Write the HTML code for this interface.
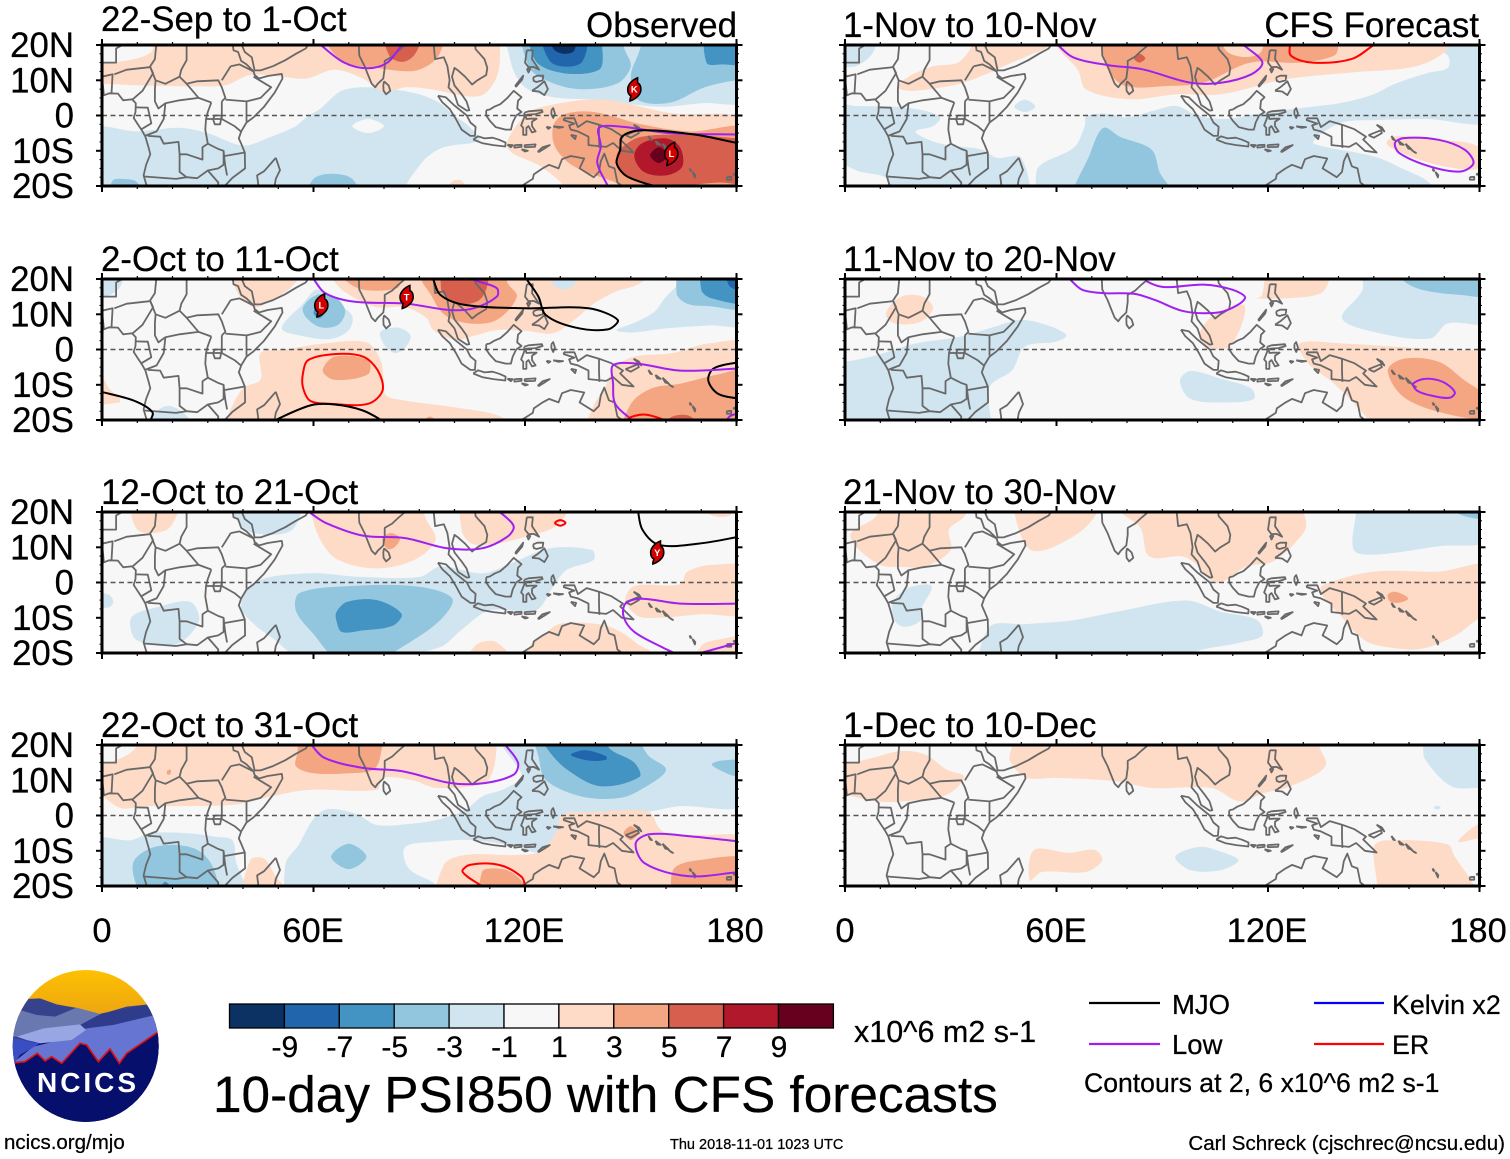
<!DOCTYPE html>
<html lang="en">
<head>
<meta charset="utf-8">
<title>10-day PSI850 with CFS forecasts</title>
<style>
html,body{margin:0;padding:0;background:#fff;width:1510px;height:1159px;overflow:hidden}
svg{display:block}
text{font-family:"Liberation Sans",Arial,sans-serif;fill:#000;font-kerning:none;stroke:#000;stroke-width:.25px}
</style>
</head>
<body>
<svg id="chart" xmlns="http://www.w3.org/2000/svg" width="1510" height="1159" viewBox="0 0 1510 1159">
  <rect x="0" y="0" width="1510" height="1159" fill="#fff"/>
  <g id="panels"></g>

  <g font-size="34.8">
    <text x="101" y="31">22-Sep to 1-Oct</text>
    <text x="737" y="37" text-anchor="end">Observed</text>
    <text x="101" y="271">2-Oct to 11-Oct</text>
    <text x="101" y="504">12-Oct to 21-Oct</text>
    <text x="101" y="737">22-Oct to 31-Oct</text>
    <text x="843" y="37">1-Nov to 10-Nov</text>
    <text x="1479" y="37" text-anchor="end">CFS Forecast</text>
    <text x="843" y="271">11-Nov to 20-Nov</text>
    <text x="843" y="504">21-Nov to 30-Nov</text>
    <text x="843" y="737">1-Dec to 10-Dec</text>
  </g>

  <g id="colorbar"></g>
  <text x="854" y="1042" font-size="30.5">x10^6 m2 s-1</text>
  <text x="213" y="1112" font-size="51.35">10-day PSI850 with CFS forecasts</text>

  <g font-size="27.5">
    <line x1="1089" y1="1003" x2="1160" y2="1003" stroke="#000" stroke-width="2.2"/>
    <text x="1172" y="1014">MJO</text>
    <line x1="1089" y1="1044" x2="1160" y2="1044" stroke="#a020f0" stroke-width="2.2"/>
    <text x="1172" y="1054">Low</text>
    <line x1="1314" y1="1003" x2="1384" y2="1003" stroke="#0000ff" stroke-width="2.2"/>
    <text x="1392" y="1014" font-size="26.8">Kelvin x2</text>
    <line x1="1314" y1="1044" x2="1384" y2="1044" stroke="#ff0000" stroke-width="2.2"/>
    <text x="1392" y="1054" font-size="26.8">ER</text>
    <text x="1084" y="1092" font-size="26.6">Contours at 2, 6 x10^6 m2 s-1</text>
  </g>

  <text x="4" y="1149" font-size="20.5">ncics.org/mjo</text>
  <text x="670" y="1149" font-size="14.5">Thu 2018-11-01 1023 UTC</text>
  <text x="1505" y="1150" font-size="20.55" text-anchor="end">Carl Schreck (cjschrec@ncsu.edu)</text>

  <g>
    <defs>
      <clipPath id="logoClip"><ellipse cx="85.7" cy="1046" rx="73" ry="76"/></clipPath>
      <linearGradient id="sky" x1="0" y1="0" x2="0" y2="1"><stop offset="0" stop-color="#ffc400"/><stop offset="1" stop-color="#eca312"/></linearGradient>
    </defs>
    <g clip-path="url(#logoClip)">
      <g transform="translate(0,965) scale(0.3333)">
        <rect x="20" y="0" width="480" height="160" fill="url(#sky)"/>
        <rect x="20" y="150" width="480" height="340" fill="#060f6c"/>
        <polygon fill="#36428c" points="20,170 80,102 120,100 170,118 225,128 300,148 380,125 445,118 490,120 490,230 20,230"/>
        <polygon fill="#6a78b0" points="30,215 60,135 110,150 165,155 230,128 305,148 240,182 130,190 50,215"/>
        <polygon fill="#2f3c8c" points="240,180 305,145 440,120 470,150 330,180 260,190"/>
        <polygon fill="#6675d2" points="40,292 100,245 180,225 260,190 340,180 465,150 490,190 490,310 40,310"/>
        <polygon fill="#98a6e4" points="50,215 130,190 240,178 258,195 215,225 120,235 80,225"/>
        <polygon fill="#3a4ec4" points="25,215 80,228 120,235 60,270 45,292 25,295"/>
        <polygon fill="#060f6c" points="20,296 75,290 112,265 135,288 155,275 185,295 240,235 260,240 295,290 330,252 358,295 380,265 490,190 490,490 20,490"/>
        <polyline fill="none" stroke="#e01010" stroke-width="5" points="20,296 75,290 112,265 135,288 155,275 185,295 240,235 260,240 295,290 330,252 358,295 380,265 490,190"/>
      </g>
    </g>
    <text x="37" y="1092" font-size="28" font-weight="bold" textLength="99" style="fill:#fff;stroke:none">NCICS</text>
  </g>
</svg>

<script>
/* ---------- axis and colour-scale data ---------- */
const lonTicks = [0, 60, 120, 180];
const lonTickLabels = ['0', '60E', '120E', '180'];
const latTicks = [20, 10, 0, -10, -20];
const latTickLabels = ['20N', '10N', '0', '10S', '20S'];
const colorbarLabels = [-9, -7, -5, -3, -1, 1, 3, 5, 7, 9];
const bandValues = [-10, -8, -6, -4, -2, 0, 2, 4, 6, 8, 10];
const bandColors = ['#0c3163', '#2166ac', '#4393c3', '#92c5de', '#d1e5f0', '#f7f7f7', '#fddbc7', '#f4a582', '#d6604d', '#b2182b', '#67001f'];
const waveTypes = ['mjo', 'low', 'er'];
const waveColors = ['#000000', '#a020f0', '#ff0000'];

/* ---------- coastlines and borders, [lon, lat] ---------- */
const coastlines = [
  [[0,5.5],[2,6.3],[4.5,6.2],[6,4.3],[8.5,4.6],[9.6,3.5],[9.5,1],[9,-0.7],[11.5,-4.5],[12.3,-6],[13.2,-9],[13.7,-11],[12.5,-14],[11.8,-17],[12.4,-19],[13,-21]],
  [[37,21],[37.3,18.5],[38.6,18],[39.5,15.5],[41,14.5],[43,12.5],[43.3,11.5],[44.5,10.5],[47,11.2],[51,11.8],[51.2,10.5],[49,6.5],[46,2.5],[43,-0.5],[41,-2],[39.5,-4.5],[38.8,-6.5],[39.5,-8],[40.5,-10.5],[40.6,-15],[37,-17.7],[34.8,-20],[34.6,-21]],
  [[39.2,21],[40.5,18],[42.5,16.5],[43.3,12.8],[45,12.8],[48.5,14],[52,15.7],[55,17.5],[57.8,19],[58.8,20.5]],
  [[72.8,21],[73,17],[74.5,14],[75.5,11.5],[76.5,9],[77.5,8],[78.2,9],[79.8,10.5],[80.2,13.5],[80.2,15.5],[82.3,16.7],[84,18.3],[86,20],[87,21]],
  [[80,9.7],[81.3,8.5],[81.8,7],[80.6,6],[79.9,7],[79.8,8.5],[80,9.7]],
  [[94,21],[94.3,18],[94.5,16],[97,16.5],[98,14],[98.6,10],[98.3,8],[100,6],[101,3],[103.5,1.4],[104.2,1.5],[103.4,4],[102,6],[100,8.5],[99.3,11],[100,13.5],[101,12.8],[103,11],[105,8.8],[106.5,10],[109,11.5],[109.3,13.5],[108.5,16],[106,18.8],[105.8,20.5]],
  [[95.3,5.6],[97.5,5.2],[100,2.8],[103.5,0],[104.5,-2],[106,-3.2],[105.8,-5.8],[104.5,-5.8],[102,-4],[100.4,-1],[98.7,1.8],[96.5,3.8],[95.3,5.6]],
  [[105.3,-6.8],[106.7,-5.9],[108.5,-6.5],[110.8,-6.3],[112.7,-6.9],[114.5,-7.7],[114.4,-8.8],[111,-8.4],[108,-7.9],[105.3,-6.8]],
  [[115,-8.3],[116.5,-8.4],[116,-9],[115,-8.3]],
  [[117,-8.4],[119,-8.3],[119,-8.9],[117,-9.1],[117,-8.4]],
  [[119.8,-8.4],[123,-8.2],[122.8,-8.9],[120,-9],[119.8,-8.4]],
  [[123.6,-10.3],[125,-9],[127,-8.4],[125.5,-9.4],[124,-10.3],[123.6,-10.3]],
  [[119,-9.6],[120.8,-10],[120,-10.2],[119,-9.6]],
  [[109,1.5],[110,1.7],[111.3,2.5],[113,3.2],[115,5],[116.8,7],[119,5.2],[118,4.2],[117.8,2],[119,1],[117.5,0],[116.5,-2],[116,-4],[114.5,-4],[111.7,-3.3],[110,-1.5],[109,0],[109,1.5]],
  [[119.8,0.8],[121,1.2],[124.8,1.5],[125,1],[123,0.4],[120.2,0.2],[120.4,-1],[121.5,-0.9],[123.3,-0.9],[122,-1.8],[122,-3],[123,-4.5],[122,-4.8],[121,-3],[120.4,-3.5],[120.4,-5.5],[119.5,-5.5],[119.5,-3.5],[118.9,-2.8],[119.8,-0.5],[119.8,0.8]],
  [[120.5,18.5],[122.2,18.5],[122,16],[124,13],[122.5,13.8],[121,13.7],[120,15],[120.3,17],[120.5,18.5]],
  [[122,7],[123.5,8],[125.5,9.7],[126.5,7.5],[125.5,5.8],[124,6.8],[122,7]],
  [[117.2,8.4],[119.5,11.3],[119.2,10.2],[117.5,8.2],[117.2,8.4]],
  [[122.3,10.8],[123.5,11.3],[125.2,11.3],[125,10],[123.3,9.5],[122.5,9.8],[122.3,10.8]],
  [[120.5,13.3],[121.5,13.2],[121,12.2],[120.5,13.3]],
  [[127.5,1.5],[128,2.1],[128.5,0.5],[128,-0.7],[127.5,0.3],[127.5,1.5]],
  [[128,-3.1],[130.8,-3.3],[129.5,-3.5],[128,-3.1]],
  [[126.1,-3.2],[127.2,-3.4],[126.6,-3.8],[126.1,-3.2]],
  [[133,-5.5],[134.5,-5.8],[134.2,-6.7],[133,-5.5]],
  [[131,-0.8],[134,-0.8],[135,-3.3],[137.5,-1.6],[141,-2.6],[144.5,-3.9],[147.8,-6],[147,-6.8],[150.8,-10.5],[147.5,-10],[145,-7.8],[143,-8.9],[138,-8.4],[138,-6],[135,-4.5],[133,-4],[132.5,-2.8],[134,-2.3],[131,-1.3],[131,-0.8]],
  [[141,-2.6],[141,-6],[141.1,-9.2]],
  [[148.5,-5.6],[152,-4.2],[152.3,-5],[150,-6.3],[148.5,-5.6]],
  [[150.8,-2.6],[153,-4.5],[152.3,-3.4],[150.8,-2.6]],
  [[155,-5.8],[156,-7],[155.5,-6.8],[155,-5.8]],
  [[157,-7.2],[158.5,-8.3],[157.5,-8.2],[157,-7.2]],
  [[159,-8],[160.7,-9.6],[159.8,-9.4],[159,-8]],
  [[160.5,-9.5],[161.5,-10.4],[162,-10.6],[161,-10],[160.5,-9.5]],
  [[166.7,-15],[167.2,-15.7],[166.9,-15.7],[166.7,-15]],
  [[167.5,-16],[168.2,-17.6],[168.3,-16.9],[167.5,-16]],
  [[177.2,-17.5],[178.5,-17.4],[178.5,-18.2],[177.3,-18.2],[177.2,-17.5]],
  [[179,-16.7],[180,-16.3],[180,-16.9],[179,-16.7]],
  [[113,-22],[114.2,-21.8],[119,-20],[122.2,-18],[122.5,-16.7],[125,-15],[126.8,-14],[129.5,-15],[130.5,-12.4],[133,-11.5],[136.8,-12.2],[135.5,-15],[139.5,-17.5],[141,-16],[141.5,-13],[142.5,-10.8],[143.8,-14.4],[145.4,-15],[146.2,-19],[148.8,-21]],
  [[49.3,-12],[50.5,-15.5],[49.3,-18],[48.8,-21],[44.5,-21],[44,-17],[46,-15.8],[48,-13.5],[49.3,-12]],
  [[24,21],[24,15.7],[22.5,13],[22,11]],
  [[15.5,21],[15,16],[13.5,13.7]],
  [[3.5,11.7],[7,13],[13.5,13.7]],
  [[13.7,13.7],[14.5,12],[11.5,7],[8.7,4.6]],
  [[15.2,10],[18,9],[22,11]],
  [[13.7,13.7],[15.2,10],[15,7.5],[15,4],[16,2],[18,3.5],[22,4.3],[27.4,5],[31,3.7]],
  [[24,9],[27,9.7],[33,10],[34,8],[35,5],[34,4]],
  [[22,11],[24,9],[27.4,5]],
  [[35,4.5],[41,4],[41,-1.7]],
  [[43,11],[48,8],[45,5],[41,4]],
  [[36.5,14],[34,10]],
  [[36.5,14],[39,14.5],[43,12.5]],
  [[34,4],[34,0],[34,-1],[37.6,-3],[39.5,-4.6]],
  [[31,3.7],[30,1],[29.5,-1],[29.3,-4],[30,-8],[28.5,-9],[28.5,-12.5],[24,-11],[22,-11]],
  [[32,0],[34,0],[33.5,-2.5],[32,-2.5],[31.5,-1],[32,0]],
  [[29.5,-1],[34,-1]],
  [[13,-5.8],[16.5,-6],[17.5,-8],[21.7,-7.5],[22,-11],[22,-13],[22,-16],[24,-17.5]],
  [[12,-17.3],[21,-18],[24,-17.5],[27,-17.8],[30,-15.6],[33,-15],[34.5,-14],[34.5,-10],[33,-9.5],[30,-8]],
  [[40.5,-10.5],[34.8,-11.5]],
  [[34.5,-10],[34.7,-12],[35,-14.5],[35.5,-17]],
  [[30,-15.6],[33,-19],[32.8,-21]],
  [[9.7,2.3],[13,2.2],[14,-2.2],[11.2,-3.9]],
  [[18,3.5],[17.5,-1],[15.5,-4.5],[12.2,-5.8]],
  [[0,11],[3,11.7],[2.7,6.3]],
  [[0.5,6],[0,11],[0,15],[4,15],[4,19],[7.5,21]]
];

/* ---------- filled PSI850 bands per panel: [band value, [[lon, lat], ...]] ---------- */
const panel1Bands = [
  [-2,[[-3,-4],[10,-4.5],[22,-3.5],[30,-5],[40,-8.5],[48,-6],[55,-3],[58,-0.5],[62,2],[68,7],[76,8],[88,6.5],[95,4],[100,0],[104,-3],[107,-7],[97,-9],[92,-12],[88,-17],[82,-24],[-3,-24]]],
  [0,[[71,-3],[75.5,-1],[80,-3],[75.5,-5]]],
  [-4,[[58,-24],[60,-18],[65,-16.5],[71,-18],[73,-24]]],
  [-4,[[2,-24],[3,-18.5],[6,-18],[10,-19],[11,-24]]],
  [2,[[-3,9],[0,9],[12,8.5],[25,8.3],[35,8.6],[42,11.5],[51,11],[58,10.5],[66,13],[74,10.5],[80,6.5],[86,8],[93,7.5],[107,5.5],[112,11],[113,20],[113,25],[15,25],[14,18],[3,15],[-3,15]]],
  [4,[[63,25],[64,20],[69,15],[77,13.6],[88,12.6],[93,14.5],[96,18],[97,25]]],
  [6,[[80,25],[81.5,17],[85,15.2],[88,16.5],[90,20],[90,25]]],
  [-2,[[116,25],[116,15],[120,8],[128,5.2],[140,4.5],[158,2.5],[170,3.5],[184,4.5],[184,25]]],
  [-4,[[120,25],[121,14],[126,10],[135,7.5],[146,9],[150,14],[148,20],[150,25]]],
  [-4,[[156,25],[152,17],[150,11],[152,4.5],[161,3.6],[171,8],[180,10],[184,10],[184,25]]],
  [-6,[[122,25],[123,15.5],[131,12],[141,13],[142,18],[140,25]]],
  [-8,[[125,25],[127.5,15],[136,15],[137,25]]],
  [-10,[[127,24],[128,19],[131,17.5],[134,18.5],[134,24]]],
  [-6,[[172,25],[171.5,15],[176,14.5],[184,15],[184,25]]],
  [2,[[115,-9],[120,0],[126,2.7],[142,4.5],[161,0.7],[184,-2],[184,-25],[132.6,-25],[131,-20],[124.5,-14.5]]],
  [4,[[128,-3],[131,0.3],[139.5,1],[153,-2.5],[166.7,-4.5],[184,-4],[184,-24],[150,-24],[147.6,-20],[134,-14.5],[128.6,-9]]],
  [6,[[147.6,-9],[153,-6],[167,-5.5],[180,-6.5],[186,-7],[186,-19],[175,-19],[158.5,-20],[147.6,-16.5],[146,-11.5]]],
  [8,[[153,-8],[160,-6.5],[164,-9],[164.6,-14.5],[160,-17],[153.7,-16],[151,-11.6]]],
  [10,[[155.5,-11.3],[158,-9],[160.5,-11.3],[158,-13.5]]],
  [2,[[98,-24],[99,-19],[102,-18.5],[105,-24]]]
];
const panel2Bands = [
  [2,[[37,25],[38,17],[43,12],[48,14],[54,18],[58,25]]],
  [2,[[63,25],[67,18],[72,14.5],[78,12],[86,12],[92,9],[94,5.5],[100,2.8],[106,4],[112,5.5],[120,5.3],[128,4.6],[134,8.4],[139.5,13],[146,16.5],[153,19],[157,25]]],
  [-2,[[127,22],[128,18.5],[131,17],[134,18.5],[134,22]]],
  [4,[[66,25],[68.7,20],[74,17],[83.7,17.4],[85,20],[85,25]]],
  [4,[[90,25],[90.5,20],[93,16],[97,10],[104,7.4],[112,8.4],[117.7,15],[115,19],[114,25]]],
  [6,[[95,25],[96,20],[96.6,16],[101,13],[107,14],[109.5,19],[109,25]]],
  [-2,[[51,6],[57,3.8],[65,3],[70,5.5],[71,9.5],[67,13],[61,17],[57,13]]],
  [-4,[[57,12],[61,15.5],[66,15],[69,11],[67,7],[62,6.3],[58,9]]],
  [-6,[[60,10.5],[61.5,12.3],[63.2,10.5],[61.5,8.8]]],
  [-2,[[79,5],[84,6.2],[87.5,4],[86,0.5],[83,-1],[80,1.5]]],
  [-2,[[146,5.5],[152,8],[157,11],[160,15],[164,19],[168,25],[184,25],[184,7.5],[172,6.8],[160,6],[150,4.8]]],
  [-4,[[165,25],[163,16],[166,13],[172,12.3],[184,12],[184,25]]],
  [-6,[[171,25],[170,17],[173,14.5],[184,13.5],[184,25]]],
  [-8,[[177.5,25],[178,18],[184,17],[184,25]]],
  [-2,[[-3,25],[-3,15],[1,15],[4.5,17],[6,20],[6,25]]],
  [-2,[[12,-25],[14,-19],[19,-16],[25,-20],[25,-25]]],
  [2,[[45,-1],[52,0],[63,1.7],[75,2],[79,-3],[80,-9],[80.5,-13],[86,-14.5],[100,-16.4],[114,-19.5],[115,-25],[33,-25],[36,-18],[40,-11],[45,-8.5]]],
  [4,[[62.6,-6],[66,-2],[75.5,-3],[75.5,-7],[66,-8.6]]],
  [2,[[-3,-8],[0,-8],[2,-11],[5,-14],[5,-15],[-3,-15]]],
  [2,[[137,-25],[139,-17],[143,-10],[145.5,-5],[151,-2],[162,-1],[172,1.7],[184,1.2],[184,-25]]],
  [4,[[148,-25],[150,-15.5],[156,-11],[164,-9.7],[175,-7],[184,-6],[184,-25]]],
  [6,[[160,-25],[161,-19.5],[167,-19],[170,-25]]],
  [4,[[89,-25],[93,-19],[98,-25]]]
];
const panel3Bands = [
  [2,[[9,25],[10,15],[19,15.4],[21.6,25]]],
  [-2,[[36,25],[38,18],[43,14],[54,15],[56,25]]],
  [2,[[59,25],[59.3,20],[62,12],[67,6.4],[78,4],[88.6,6.4],[94.6,12],[92,17.8],[88.6,25]]],
  [4,[[79.5,12.5],[82,14],[84.5,12.5],[83,10],[81,9.5]]],
  [2,[[103,25],[102,15],[105,11],[112,11],[120,13],[128,15.5],[132,20],[132,25]]],
  [-2,[[39.5,-7],[43,0],[58.7,2.6],[73,1.6],[90,1.6],[96,4.5],[108,2.6],[116,5.4],[127,9.7],[139,9.2],[139.5,6.4],[131.7,3.5],[128,-1.2],[123,-7.9],[110,-7.9],[101.8,-13.6],[95.8,-18.4],[80,-21],[56,-21],[48,-15.5],[43,-11.7]]],
  [-4,[[55,-8],[56,-3],[70.7,-1],[90,-1.2],[99.4,-4.6],[95.8,-10.8],[85,-18.4],[78,-22],[67,-22],[60,-14.6]]],
  [-6,[[66.5,-8.4],[69.5,-5.5],[78,-5],[85,-8.9],[82.6,-12.2],[74,-13.6],[68,-14],[66.5,-10.8]]],
  [-2,[[8.4,-9.8],[15.6,-7],[25,-5.5],[27.5,-10.8],[21.5,-17.4],[13,-17.4],[9,-15.5]]],
  [-2,[[-3,-3],[2,-3.5],[3.2,-5.5],[2,-7],[-3,-7]]],
  [2,[[148.5,-5],[151,-1],[164,-0.5],[166,3],[173,5],[184,4],[184,-8.5],[170,-9],[158,-10],[152,-9.5]]],
  [2,[[118,-25],[121,-18.5],[125,-15],[130,-11.7],[142,-12],[148,-14.5],[152,-17.5],[156,-20],[157,-25]]],
  [2,[[168,-25],[170,-18],[176,-16],[184,-15.5],[184,-25]]],
  [2,[[103,-25],[106,-17.8],[112,-17],[118,-25]]],
  [2,[[170,24],[172,19.5],[178,19],[180,24]]]
];
const panel4Bands = [
  [2,[[-3,14.5],[0,14.5],[6.7,16.9],[10,20],[10,25],[112,25],[112,20],[111,13],[108.5,9.2],[95,7.8],[88,10],[79.6,10.7],[78,7.3],[59,7.3],[48,5.4],[37,3],[12,2.6],[5.4,2.1],[0,5.4],[-3,6]]],
  [4,[[56,25],[55.5,18],[55,14],[60,12],[70,12],[77,13],[79,17],[79,25]]],
  [4,[[18.4,12.6],[19.5,13],[19.4,11.8],[18.6,11.6]]],
  [-2,[[113,25],[113.5,20],[117,15],[119,11],[114,7.5],[108,5.5],[103,1.6],[96,-1],[89,-2.2],[78,-2.7],[72,0.5],[64,1.8],[60,-1],[56,-8],[52,-14],[54,-25],[95,-25],[95,-20],[87,-15],[86,-9],[95,-7.4],[106,-7],[118,-9],[124,-10.3],[129,-4.6],[130.5,0.2],[140,1],[155,1.1],[163.5,2.6],[184,3.5],[184,25]]],
  [-4,[[123,25],[124,16],[126,10],[136,5.4],[147,5],[154,8],[160,13],[155,17],[149,25]]],
  [-6,[[124,24],[126.4,18.8],[132,13],[141.5,8.3],[152.5,11],[151,15],[144,19],[142,24]]],
  [-8,[[133,17.2],[137,18.5],[143,16.8],[143,15.8],[138,15.6]]],
  [-4,[[173,14.5],[176,12.5],[180,11],[184,11],[184,15.4],[176,15.6]]],
  [-4,[[65,-11.7],[70,-8],[75,-11.7],[70,-15.2]]],
  [-2,[[-3,-7],[8,-7],[14,-5],[24,-5],[32,-6],[37,-7],[38,-13],[41,-25],[-3,-25]]],
  [-4,[[8.8,-13.6],[15,-8.9],[26,-9.3],[31.5,-14.6],[32,-22],[12,-22]]],
  [-6,[[16,-22],[18,-18.8],[20,-22]]],
  [2,[[40.5,-25],[42,-12.7],[46,-12.2],[49.4,-17.4],[55,-25]]],
  [2,[[96,-25],[97,-14],[103,-11.2],[117,-11.2],[124,-10.3],[129,-4.6],[130.5,0.2],[140,1],[155,1.1],[158,-3.5],[161,-5.5],[170,-5.5],[184,-7],[184,-25]]],
  [4,[[108,-25],[107.8,-16],[111,-15],[116,-16],[120,-20],[121,-25]]],
  [4,[[163.5,-25],[162,-15.5],[169,-12.7],[184,-12.7],[184,-25]]],
  [4,[[148,-5],[150,-3],[152,-5],[150,-7]]]
];
const panel5Bands = [
  [-2,[[-3,25],[-3,15],[3,14],[8,18],[9,25]]],
  [-2,[[-3,3],[3,2.7],[14,2.5],[22,1.5],[27,-0.5],[25,-3],[20,-4.5],[24,-7],[30,-8.5],[39,-9.7],[43,-12],[50,-12],[51,-25],[13,-25],[12,-18],[3,-15.5],[-3,-11]]],
  [-2,[[53,-25],[54,-20],[55,-14.5],[65,-9],[68,-3],[68.5,-0.2],[74,0.5],[80,-0.5],[88,1.5],[94,2.7],[100,0],[108,-1],[117,0.5],[126,1.7],[132,2.4],[141,3.6],[150,6],[156,9],[165,12],[171,13.5],[171,17],[166,20],[164,25],[184,25],[184,-1],[165,-1],[150,-1.3],[141,-2],[134,-6],[133,-8],[150,-11.6],[158,-15],[166,-19.3],[168,-25]]],
  [-2,[[48,2.5],[51,4.5],[54,2.5],[51,1]]],
  [-4,[[65,-25],[69.6,-10.7],[73.3,-3.5],[78,-6],[87,-9.7],[89.4,-16.4],[94.5,-25]]],
  [2,[[15,8],[18,11],[25,14],[32,15],[36,20],[36,25],[58,25],[58,20],[52,17],[45,14],[42,12.5],[32.5,9],[24,7.5],[18,7]]],
  [2,[[59,25],[59.8,20],[66,13],[68.4,7.4],[80.7,4.6],[94.3,6],[106.7,6],[125,10.3],[143.7,12.2],[162,14],[171,19],[170,25]]],
  [4,[[72,25],[72.7,20],[74.6,13],[79.5,8.4],[91.8,8.4],[101.7,9.3],[115,15],[129,15],[138.8,17],[140,20],[140,25]]],
  [2,[[107,24],[108,18.5],[113,16.6],[118,18],[118,24]]],
  [6,[[82,16.2],[83.5,17.5],[85.2,16.2],[83.5,15]]],
  [2,[[153.6,-7.8],[156,-5.9],[168.4,-6.9],[179.5,-8.8],[180,-14.5],[177,-15.4],[166,-13.5],[156,-9.7]]]
];
const panel6Bands = [
  [-2,[[-3,-3.5],[0,-3.5],[9,-1.6],[20,1.7],[32.6,3.6],[42.5,6.5],[50,8.4],[58.5,6.5],[62.8,4],[59.8,2.2],[51,0.8],[47.4,-5.9],[41,-10.7],[40,-25],[-3,-25]]],
  [2,[[11.6,10.3],[16,15],[22,15],[25,11.7],[21.5,7.9],[14,7.4]]],
  [2,[[104,9.3],[113,12.7],[113,8.4],[109,0.8],[104,0.3],[100.5,3.6]]],
  [2,[[115,14.5],[118,15],[119,19.3],[120,24],[138,24],[137.5,20],[135,16],[126.4,14.6]]],
  [-2,[[147,25],[146.8,17],[141,8.9],[150,5],[166,3.1],[171,7.4],[184,7.9],[184,25]]],
  [-4,[[157,25],[158,20],[163.5,17],[174.6,15.5],[184,15.5],[184,25]]],
  [-2,[[95,-8.8],[98,-6.1],[106.7,-8.3],[115.3,-11.1],[116,-14],[109,-15],[98,-14]]],
  [2,[[129,1.7],[141,1.7],[156,0.8],[171,-0.2],[184,-2],[184,-25],[152,-25],[148.6,-20],[138.8,-9.7],[131.4,-4]]],
  [4,[[154,-5.9],[158.5,-2.6],[168.4,-3.5],[175.8,-8.8],[182,-13.5],[182,-19.2],[170.9,-18.3],[158.5,-13.5]]]
];
const panel7Bands = [
  [2,[[9,25],[9,19],[1.7,14],[3,10.3],[10,5],[16,4.4],[23,4.6],[30,9.3],[29.5,15],[34,19],[35,25]]],
  [2,[[49,25],[49.3,15],[53.6,8.9],[64.7,13],[71,19],[72,25]]],
  [2,[[76,25],[78.3,20],[83.8,15.5],[86.3,7.4],[95.6,7.4],[99.3,5.5],[105.4,-0.2],[114,4.6],[121.5,6],[130,14],[130.7,17.9],[126.4,25]]],
  [-2,[[145.5,25],[145,20],[144.3,9.3],[150,7.9],[168.4,10.3],[184,12.2],[184,25]]],
  [-4,[[171,25],[173.3,20],[180,17.9],[184,17.5],[184,25]]],
  [-2,[[13.5,-5.9],[17.8,-1.6],[24.6,-1],[21.5,-7.8],[21.5,-10.7],[17,-12.6],[14,-10.7]]],
  [-2,[[39.4,-25],[41,-12.6],[51,-11.8],[64.7,-10.7],[77,-8.3],[96.8,-5.1],[106.7,-8.3],[117,-10.7],[118.4,-15],[112.8,-16.9],[98,-20],[90,-25]]],
  [2,[[135.7,-0.7],[150,3.1],[168.4,3.1],[184,4.8],[184,-10],[180,-10.2],[173.3,-15],[163.5,-18.8],[153.6,-18.3],[147.4,-16.4],[140,-8.8],[135,-3]]],
  [4,[[154,-3.5],[156,-2.6],[159.8,-4.5],[157.3,-5.7],[154.6,-5.4]]]
];
const panel8Bands = [
  [2,[[-3,14],[0,14.5],[8,16.4],[16,18.3],[22.7,17.3],[28.9,13],[33.8,11],[28.9,5.9],[16.5,4],[9,4],[0,5.9],[-3,6]]],
  [2,[[47.4,25],[47.4,20],[46.8,15.4],[51.7,10.7],[59.8,10.7],[77,9.7],[87,7.8],[104,7.8],[112,4],[119,6.4],[126.4,8.3],[136.3,14],[134.4,20],[134,25]]],
  [-2,[[164,25],[164,20],[164.6,15.9],[172,8.3],[180,7.8],[184,7.8],[184,25]]],
  [-2,[[93.7,-11.7],[100.5,-8.9],[106.7,-10.3],[111.6,-12.7],[106.7,-15.5],[98,-15.5]]],
  [-2,[[167,2.2],[168,2.8],[169,2.2],[168,1.8]]],
  [2,[[52.4,-18.4],[53.6,-9.8],[63.5,-10.6],[70.9,-9.8],[73,-12.7],[68.4,-16],[56,-16]]],
  [2,[[151,-25],[151,-20],[150,-8.9],[153,-7.1],[170.9,-8.1],[173,-11.7],[177.7,-18.4],[178.3,-20],[178.5,-25]]],
  [2,[[174,-7.4],[180,-2.2],[184,-2],[184,-6.5],[180,-6.5]]]
];
const panelBands = [panel1Bands, panel2Bands, panel3Bands, panel4Bands, panel5Bands, panel6Bands, panel7Bands, panel8Bands];

/* ---------- wave contours per panel: [wave type, closed?, [[lon, lat], ...]] ---------- */
const panel1Waves = [
  ['low',false,[[62,20],[68.7,15],[75.5,13.4],[81,15],[85,20]]],
  ['low',false,[[143.5,-20],[140.5,-13.5],[141.5,-8.8],[141,-3.5],[147.6,-3.2],[161,-5],[180,-5.4]]],
  ['mjo',false,[[181,-8],[168,-5.4],[153,-4.2],[147.6,-5.9],[147,-9.7],[146,-13.5],[149,-17.3],[160,-21]]]
];
const panel2Waves = [
  ['low',false,[[60,20],[63.3,16],[71.4,13.6],[86.4,13],[98.6,11.2],[105.4,11.7],[112,15],[112,17.4],[106.8,19.3],[103.4,20.5]]],
  ['mjo',false,[[93.9,20],[96,15.5],[102.7,12.7],[120.4,11.7],[138,11.7],[146.3,8.4],[143.5,5.7],[134,6.3],[125.9,9.8],[123.8,15],[120.4,20]]],
  ['er',true,[[57,-6.9],[58.5,-3],[66,-1.3],[74,-2],[78.2,-5.9],[79.6,-11.6],[75.5,-15.4],[64.6,-15.4],[59,-14.5],[57,-10.7]]],
  ['mjo',false,[[47,-21],[59,-15.9],[66,-15.6],[74,-17.3],[81,-21]]],
  ['mjo',false,[[-1,-11.8],[9,-14.5],[14.3,-17.8],[13.6,-20.5]]],
  ['mjo',false,[[181,-3.5],[173.5,-5.4],[172,-8.8],[174.8,-12.6],[181,-14]]],
  ['low',false,[[150.3,-20],[145.6,-15.4],[145,-9.7],[145,-4.5],[151.7,-4],[164,-6],[181,-5.4]]],
  ['low',false,[[177,-21],[178,-19],[181,-18]]],
  ['er',false,[[148,-21],[150,-19.2],[154.5,-18.5],[161,-20.5]]]
];
const panel3Waves = [
  ['low',false,[[58.7,20],[63.5,16.9],[74,13.3],[86,12.6],[98,9.7],[107.8,9.7],[115,13],[116.8,15.9],[113.8,19.2],[111,21]]],
  ['mjo',false,[[152,20.5],[153.3,15],[158,10.7],[169,11],[181,13]]],
  ['low',false,[[181,-6],[164,-6],[153,-4.6],[148.5,-6],[148,-9.8],[151,-14],[159,-18.4],[163.5,-20.5]]],
  ['low',false,[[168,-20.5],[180,-17.2],[181,-17]]],
  ['er',true,[[128.5,16.9],[130,17.7],[131.5,16.9],[130,16.1]]]
];
const panel4Waves = [
  ['low',false,[[59,20.5],[63,16.4],[74,13.5],[85,12.6],[99,9.2],[108.5,9.2],[116.8,11.6],[118,15],[114,20.5]]],
  ['er',false,[[108.5,-20.5],[102.3,-16],[104.4,-14],[112.6,-14],[119,-17.4],[120.2,-20.5]]],
  ['low',false,[[181,-7.4],[167.7,-6],[155.3,-5.3],[151.4,-7.9],[154,-13.6],[166.3,-17.2],[181,-16]]]
];
const panel5Waves = [
  ['low',false,[[59.8,20.5],[64.7,16.5],[74.6,14.3],[84.4,13.1],[98,9.3],[106.7,9.3],[115.3,11.7],[118.4,15],[114,19.3],[112,20.5]]],
  ['er',false,[[126.2,20.5],[126.5,17],[132.6,15],[143.7,16],[150,20]]],
  ['low',true,[[156,-7.8],[158.5,-6.4],[168.4,-6.9],[175.8,-9.7],[178.3,-13.5],[174.6,-15.9],[166,-14.5],[157.3,-10.7]]]
];
const panel6Waves = [
  ['low',false,[[63.2,20.5],[67.2,17],[73.3,16],[82,15.8],[88,14],[95.5,11],[101.7,10.3],[108,11],[113.5,14.6],[109.8,17],[101.7,18.4],[90.6,17.7],[85.7,19.3],[85.5,20.5]]],
  ['low',true,[[161.2,-9.7],[164.7,-8.3],[169.6,-9.2],[173,-12.1],[171.5,-13.7],[166,-13],[162.2,-11.6]]]
];
const panel7Waves = [];
const panel8Waves = [];
const panelWaves = [panel1Waves, panel2Waves, panel3Waves, panel4Waves, panel5Waves, panel6Waves, panel7Waves, panel8Waves];

/* ---------- tropical cyclones per panel: [letter, lon, lat] ---------- */
const panel1Storms = [['K',151,7.4],['L',161.5,-10.9]];
const panel2Storms = [['L',62.2,12.5],['T',86.4,14.9]];
const panel3Storms = [['Y',157.5,8.5]];
const panelStorms = [panel1Storms, panel2Storms, panel3Storms, [], [], [], [], []];

/* ---------- layout and axis functions ---------- */
const NS = 'http://www.w3.org/2000/svg';
const PANEL_W = 634.5, PANEL_H = 141;
const panelLefts = [102,102,102,102,845,845,845,845];
const panelTops = [45,279,512,745,45,279,512,745];
const root = document.getElementById('panels');

function lonToX(lon, left){ return left + lon * PANEL_W / 180; }
function latToY(lat, top){ return top + (20 - lat) * PANEL_H / 40; }
function colorOf(v){ return bandColors[bandValues.indexOf(v)]; }
function make(tag, parent){
  const el = document.createElementNS(NS, tag);
  parent.appendChild(el);
  return el;
}
function f(n){ return n.toFixed(1); }
function dist(a, b){ return Math.hypot(a[0] - b[0], a[1] - b[1]); }
/* chord-weighted Catmull-Rom: long runs outside the frame do not bulge into short sides */
function smoothPath(pts, closed){
  const n = pts.length;
  const at = function(i){
    if (closed) return pts[(i + n) % n];
    return pts[Math.max(0, Math.min(n - 1, i))];
  };
  let d = 'M' + f(pts[0][0]) + ',' + f(pts[0][1]);
  const last = closed ? n : n - 1;
  for (let i = 0; i < last; i++){
    const p0 = at(i - 1), p1 = at(i), p2 = at(i + 1), p3 = at(i + 2);
    const d01 = dist(p0, p1), d12 = dist(p1, p2), d23 = dist(p2, p3);
    const a = d12 / (d01 + d12) / 3;
    const b = d12 / (d12 + d23) / 3;
    d += 'C' + f(p1[0] + (p2[0] - p0[0]) * a) + ',' + f(p1[1] + (p2[1] - p0[1]) * a) +
         ' ' + f(p2[0] - (p3[0] - p1[0]) * b) + ',' + f(p2[1] - (p3[1] - p1[1]) * b) +
         ' ' + f(p2[0]) + ',' + f(p2[1]);
  }
  return closed ? d + 'Z' : d;
}

function drawTick(parent, x1, y1, x2, y2, w){
  const t = make('line', parent);
  
  
  t.setAttribute('x1', f(x1)); t.setAttribute('y1', f(y1));
  t.setAttribute('x2', f(x2)); t.setAttribute('y2', f(y2));
  t.setAttribute('stroke', '#000');
  t.setAttribute('stroke-width', w);
}

function drawPanel(idx){
  const left = panelLefts[idx], top = panelTops[idx];
  const X = function(lon){ return lonToX(lon, left); };
  const Y = function(lat){ return latToY(lat, top); };
  const toPx = function(p){ return [X(p[0]), Y(p[1])]; };

  const g = make('g', root);
  
  

  const clip = make('clipPath', g);
  clip.setAttribute('id', 'clip' + idx);
  const clipRect = make('rect', clip);
  clipRect.setAttribute('x', left); clipRect.setAttribute('y', top);
  clipRect.setAttribute('width', PANEL_W); clipRect.setAttribute('height', PANEL_H);

  const inner = make('g', g);
  inner.setAttribute('clip-path', 'url(#clip' + idx + ')');

  const bg = make('rect', inner);
  
  
  bg.setAttribute('x', left); bg.setAttribute('y', top);
  bg.setAttribute('width', PANEL_W); bg.setAttribute('height', PANEL_H);
  bg.setAttribute('fill', colorOf(0));

  panelBands[idx].forEach(function(b){
    const p = make('path', inner);
    
    
    p.setAttribute('d', smoothPath(b[1].map(toPx), true));
    p.setAttribute('fill', colorOf(b[0]));
  });

  coastlines.forEach(function(c){
    const pl = make('polyline', inner);
    
    
    pl.setAttribute('points', c.map(function(q){ return f(X(q[0])) + ',' + f(Y(q[1])); }).join(' '));
    pl.setAttribute('fill', 'none');
    pl.setAttribute('stroke', '#686868');
    pl.setAttribute('stroke-width', '1.8');
    pl.setAttribute('stroke-linejoin', 'round');
  });

  const eq = make('line', inner);
  
  
  eq.setAttribute('x1', left); eq.setAttribute('x2', left + PANEL_W);
  eq.setAttribute('y1', f(Y(0))); eq.setAttribute('y2', f(Y(0)));
  eq.setAttribute('stroke', '#555');
  eq.setAttribute('stroke-width', '1.4');
  eq.setAttribute('stroke-dasharray', '5 3.5');

  panelWaves[idx].forEach(function(w){
    const p = make('path', inner);
    
    
    p.setAttribute('d', smoothPath(w[2].map(toPx), w[1]));
    p.setAttribute('fill', 'none');
    p.setAttribute('stroke', waveColors[waveTypes.indexOf(w[0])]);
    p.setAttribute('stroke-width', '2');
  });

  panelStorms[idx].forEach(function(s){
    const sg = make('g', g);
    
    
    sg.setAttribute('transform', 'translate(' + f(X(s[1])) + ',' + f(Y(s[2])) + ') scale(1.1)');
    const body = make('path', sg);
    body.setAttribute('d', 'M3,-10.5C-1,-9 -6,-5 -6,0C-6,3 -5,5 -3,6C-4,8 -4,9 -4,10.5C1,9 6,5 6,0C6,-3 5,-5 3,-6C3,-8 3,-9 3,-10.5Z');
    body.setAttribute('fill', '#d40000');
    body.setAttribute('stroke', '#000');
    body.setAttribute('stroke-width', '1.4');
    const label = make('text', sg);
    label.setAttribute('text-anchor', 'middle');
    label.setAttribute('y', '3');
    label.setAttribute('font-size', '8.5');
    label.setAttribute('font-weight', 'bold');
    label.setAttribute('style', 'fill:#fff;stroke:none');
    label.textContent = s[0];
  });

  const frame = make('rect', g);
  
  
  frame.setAttribute('x', left); frame.setAttribute('y', top);
  frame.setAttribute('width', PANEL_W); frame.setAttribute('height', PANEL_H);
  frame.setAttribute('fill', 'none');
  frame.setAttribute('stroke', '#000');
  frame.setAttribute('stroke-width', '3');

  for (let lon = 0; lon <= 180; lon += 10){
    const major = lonTicks.indexOf(lon) >= 0;
    const len = major ? 6 : 3;
    drawTick(g, X(lon), top, X(lon), top - len, major ? 2 : 1.2);
    drawTick(g, X(lon), top + PANEL_H, X(lon), top + PANEL_H + len, major ? 2 : 1.2);
  }
  for (let lat = -20; lat <= 20; lat += 2.5){
    const major = latTicks.indexOf(lat) >= 0;
    const len = major ? 6 : 2.5;
    drawTick(g, left, Y(lat), left - len, Y(lat), major ? 2 : 1);
    drawTick(g, left + PANEL_W, Y(lat), left + PANEL_W + len, Y(lat), major ? 2 : 1);
  }

  if (idx < 4){
    latTickLabels.forEach(function(lbl, i){
      const t = make('text', g);
      
      
      t.setAttribute('x', '74');
      t.setAttribute('y', f(Y(latTicks[i]) + 12));
      t.setAttribute('text-anchor', 'end');
      t.setAttribute('font-size', '34.8');
      t.textContent = lbl;
    });
  }
  if (idx === 3 || idx === 7){
    lonTickLabels.forEach(function(lbl, i){
      const t = make('text', g);
      
      
      t.setAttribute('x', f(X(lonTicks[i]) - lonTicks[i] / 120));
      t.setAttribute('y', '942');
      t.setAttribute('text-anchor', 'middle');
      t.setAttribute('font-size', '34.5');
      t.textContent = lbl;
    });
  }
}
for (let i = 0; i < 8; i++) drawPanel(i);

/* ---------- colour bar ---------- */
(function(){
  const cb = document.getElementById('colorbar');
  const x0 = 229.5, w = 54.9, y0 = 1004, h = 24;
  bandColors.forEach(function(col, i){
    const r = make('rect', cb);
    
    
    r.setAttribute('x', f(x0 + i * w)); r.setAttribute('y', y0);
    r.setAttribute('width', f(w)); r.setAttribute('height', h);
    r.setAttribute('fill', col);
    r.setAttribute('stroke', '#000');
    r.setAttribute('stroke-width', '1.3');
  });
  colorbarLabels.forEach(function(v, i){
    const t = make('text', cb);
    
    
    t.setAttribute('x', f(x0 + (i + 1) * w + 0.5));
    t.setAttribute('y', '1057');
    t.setAttribute('text-anchor', 'middle');
    t.setAttribute('font-size', '30');
    t.textContent = String(v);
  });
})();
</script>
</body>
</html>
